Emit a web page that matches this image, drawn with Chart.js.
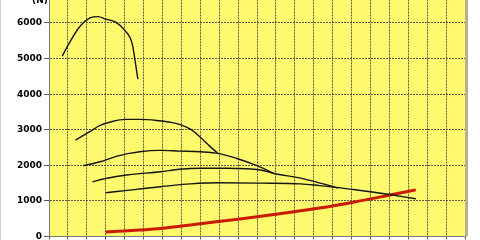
<!DOCTYPE html>
<html>
<head>
<meta charset="utf-8">
<script src="https://cdn.jsdelivr.net/npm/chart.js@4.4.1/dist/chart.umd.min.js"></script>
<style>
  html, body { margin: 0; padding: 0; background: #fff; }
  #wrap { position: relative; width: 480px; height: 240px; overflow: hidden; border-left: 1px solid #cfcfcf; box-sizing: border-box; }
  #chart { position: absolute; left: -1px; top: -20px; }
</style>
</head>
<body>
<div id="wrap"><canvas id="chart" width="480" height="280"></canvas></div>
<script>
// speed (km/h) and tractive force (N) per gear
const gear1Speed = [7, 11, 16, 22, 26, 30, 35, 40, 44, 45.5, 47];
const gear1Force = [5070, 5460, 5880, 6150, 6180, 6110, 6030, 5800, 5420, 4950, 4420];

const gear2Speed = [14, 22, 27, 34, 40, 48, 57, 64, 69, 75, 80, 85, 89];
const gear2Force = [2710, 2960, 3120, 3240, 3290, 3290, 3260, 3210, 3150, 3010, 2790, 2540, 2350];

const gear3Speed = [18, 27, 36, 48, 59, 69, 80, 90, 99, 110, 119];
const gear3Force = [1990, 2100, 2260, 2380, 2420, 2400, 2380, 2330, 2200, 1990, 1770];

const gear4Speed = [23, 30, 41, 59, 69, 80, 94, 112, 119, 131, 142, 153];
const gear4Force = [1540, 1630, 1730, 1820, 1890, 1920, 1920, 1870, 1770, 1660, 1520, 1360];

const gear5Speed = [30, 44, 59, 75, 90, 112, 133, 143, 152, 161, 171, 180, 194];
const gear5Force = [1230, 1310, 1400, 1480, 1510, 1500, 1480, 1430, 1380, 1320, 1250, 1180, 1060];

const resistSpeed = [30, 59, 80, 101, 122, 143, 161, 179, 194];
const resistForce = [125, 225, 360, 490, 640, 800, 965, 1150, 1310];

const yTicks = [0, 1000, 2000, 3000, 4000, 5000, 6000, 7000];
const xMax = 220;
const yUnit = "(N)";

const toPoints = (xs, ys) => xs.map((x, i) => ({ x: x, y: ys[i] }));

const gearLine = (label, xs, ys) => ({
  label: label,
  data: toPoints(xs, ys),
  borderColor: "#141414",
  borderWidth: 1.4,
  pointRadius: 0,
  cubicInterpolationMode: "monotone",
  fill: false,
});

const plotBg = {
  id: "plotBg",
  beforeDraw: (chart) => {
    const { ctx, chartArea: a } = chart;
    ctx.save();
    ctx.fillStyle = "#fff96e";
    ctx.fillRect(a.left, a.top, a.right - a.left, a.bottom - a.top);
    ctx.restore();
  },
  afterDraw: (chart) => {
    const { ctx, chartArea: a } = chart;
    ctx.save();
    ctx.fillStyle = "#b8b08a";
    ctx.fillRect(a.right, a.top, 3, a.bottom - a.top);
    ctx.fillStyle = "#000";
    ctx.font = "bold 9px 'DejaVu Sans'";
    ctx.textAlign = "center";
    ctx.textBaseline = "middle";
    ctx.fillText(yUnit, 40, 20.5);
    ctx.restore();
  },
};

const ctx = document.getElementById("chart").getContext("2d");

new Chart(ctx, {
  type: "line",
  data: {
    datasets: [
      gearLine("1", gear1Speed, gear1Force),
      gearLine("2", gear2Speed, gear2Force),
      gearLine("3", gear3Speed, gear3Force),
      gearLine("4", gear4Speed, gear4Force),
      gearLine("5", gear5Speed, gear5Force),
      {
        label: "resistance",
        data: toPoints(resistSpeed, resistForce),
        borderColor: "#cc1a00",
        borderWidth: 3,
        pointRadius: 0,
        cubicInterpolationMode: "monotone",
        fill: false,
      },
    ],
  },
  plugins: [plotBg],
  options: {
    responsive: false,
    animation: false,
    devicePixelRatio: 1,
    layout: { padding: { top: 4.5, right: 15, left: 0, bottom: 0 } },
    plugins: {
      legend: { display: false },
      tooltip: { enabled: false },
    },
    scales: {
      x: {
        type: "linear",
        min: 0,
        max: xMax,
        ticks: { stepSize: 10, display: false },
        grid: { color: "#5e5a4a", lineWidth: 1, tickLength: 3 },
        border: { color: "#777", dash: [2, 1] },
        afterFit: (scale) => {
          scale.height = 23.5;
        },
      },
      y: {
        min: 0,
        max: yTicks[yTicks.length - 1],
        afterBuildTicks: (scale) => {
          scale.ticks = yTicks.map((v) => ({ value: v }));
        },
        ticks: {
          color: "#000",
          padding: 2,
          font: { family: "DejaVu Sans", size: 9, weight: "bold" },
          callback: (value) => String(value),
        },
        grid: { color: "#5e5a4a", lineWidth: 1, tickLength: 5 },
        border: { color: "#777", dash: [2, 1] },
        afterFit: (scale) => {
          scale.width = 49;
        },
      },
    },
  },
});
</script>
</body>
</html>
